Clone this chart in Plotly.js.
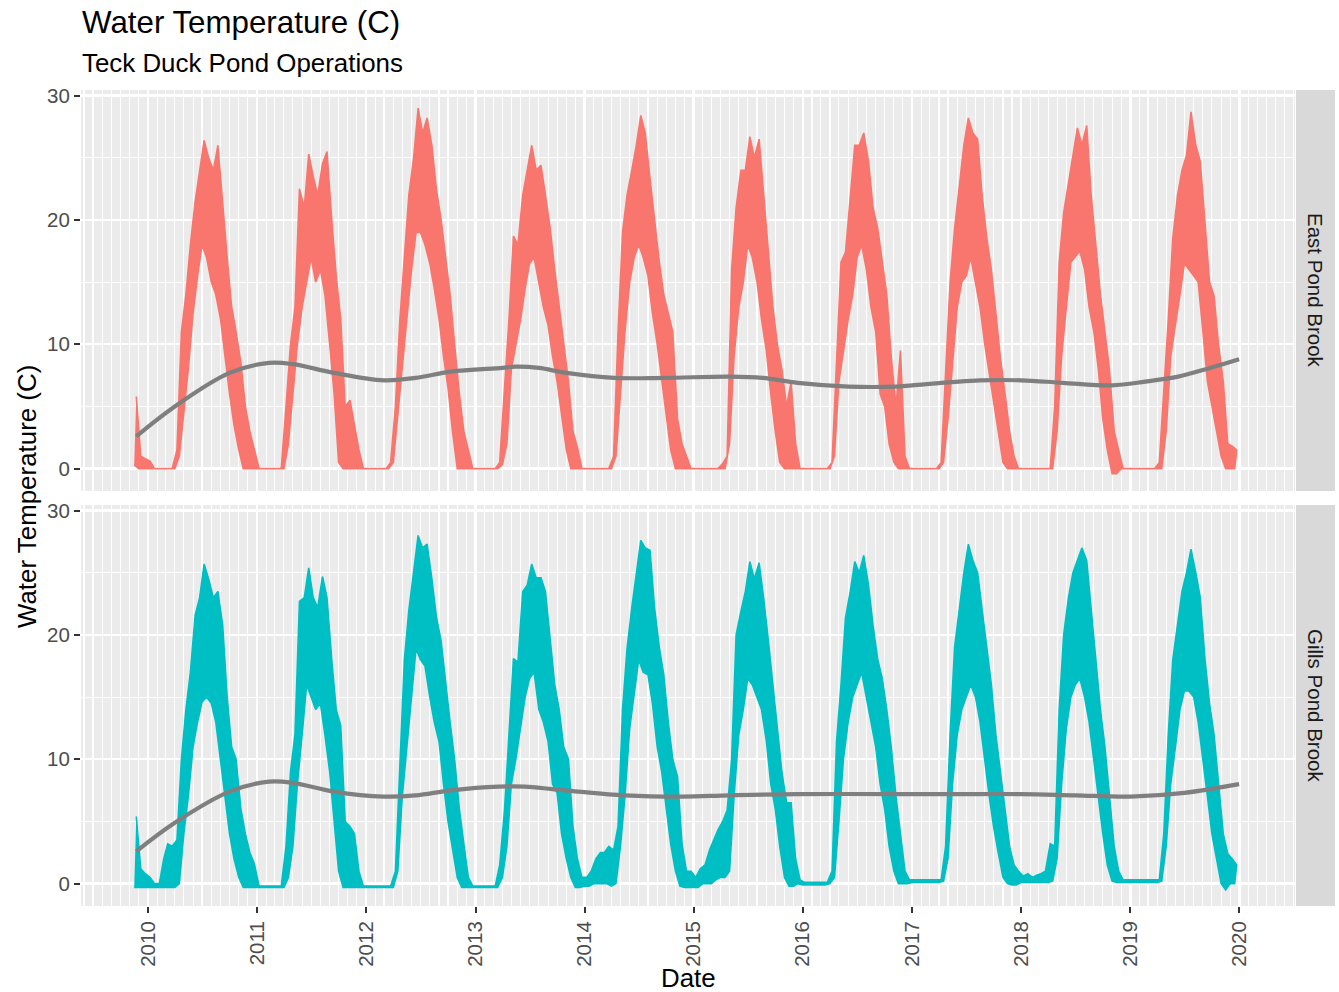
<!DOCTYPE html>
<html>
<head>
<meta charset="utf-8">
<script src="https://cdn.plot.ly/plotly-3.0.1.min.js"></script>
<style>
html,body{margin:0;padding:0;background:#ffffff;}
#chart{width:1339px;height:992px;}
</style>
</head>
<body>
<div id="chart"></div>
<script>
// ---------------- data ----------------
const facetLabels = ['East Pond Brook', 'Gills Pond Brook'];
const seriesColors = ['#F8766D', '#00BFC4'];
const firstHalfMonth = {year: 2009, index: 21}; // second half of November 2009
const yTickValues = [0, 10, 20, 30];

// half-monthly upper / lower envelope of the logged temperature (deg C)
const eastHi = [
  5.8,1.0,0.8,
  0.6,0,0,0,0,0,1.5,11,14,18,21.5,24,26.4,25,24,26,21,17,13,11,8.5,5,3,1.5,
  0,0,0,0,0,0,5,10,13,22.5,21,25.3,23.5,22,24.5,25.5,20,15.5,12,5,5.5,3.5,1.5,0,
  0,0,0,0,0,0.5,5,12,17,22,25,29,27,28.2,26,22.5,20,17,14,10,6,3,1.5,0,
  0,0,0,0,0,0.5,6,12,18.7,18,22,24,26,24,24.4,22,19.3,16,13,10,7,3,1.7,0,
  0,0,0,0,0,0,1,11,19,22,24,26,28.4,27,23.3,20,16.6,14,12.5,11,4,2,1,0,
  0,0,0,0,0,0,0.4,1,16,21,24,24,26.7,25,26.5,22,17,13,10,8,5,7,2,0,
  0,0,0,0,0,0,0.5,9,16.6,17.4,22,26,26,27,24.7,21,19.3,16.6,14,9,5,9.5,1,0,
  0,0,0,0,0,0,0.5,8,15,19.3,23,26,28.2,27,26.5,22,18.5,16,12.5,9,6,3,1,0,
  0,0,0,0,0,0,0,5,16.6,20.6,23,25.5,27.4,26,27.6,22,18,14,11,8,3,1.5,0,0,
  0,0,0,0,0,0,0.5,6,12,18.5,22,24,25.2,28.7,26,24.7,19.3,15,13.9,10,7,2,1.8,1.5
];
const eastLo = [
  0.3,0,0,
  0,0,0,0,0,0,0,1,4.5,8,12.5,15.5,18,17,15,14,12,9,6,3.5,1.5,0,0,0,
  0,0,0,0,0,0,0,2,6,10,13,15,17,15,16,14,10,6,0.5,0,0,0,0,0,
  0,0,0,0,0,0,0.5,4,8,12,16,19,19,18,16.5,14.5,12,9,6.5,3,0,0,0,0,
  0,0,0,0,0,0,0.3,2,8,10,12,14.5,16.5,17,15,13,11.5,9,7,4.4,1.5,0,0,0,
  0,0,0,0,0,0,0,1,6,11,15,17,18,17,15.5,12.5,10,7,4.5,1.5,0,0,0,0,
  0,0,0,0,0,0,0,0,2,9,13,15,18,17,15,12,9.5,6,3,0.5,0,0,0,0,
  0,0,0,0,0,0,0,1,7,9.5,12,14,17,18,16,13,11,6,5,2,0.5,0,0,0,
  0,0,0,0,0,0,0,0.5,4,8,13,15,15.5,17,15,13,10,7.5,5,3,0.5,0,0,0,
  0,0,0,0,0,0,0,0,3,9,13,16.6,17,17.5,16,13,11,8,4,1.5,-0.4,-0.4,0,0,
  0,0,0,0,0,0,0,0,3,9,11.5,14,16.5,16,15.5,15,11,7,5,3,1,0,0,0
];
const gillsHi = [
  5.4,1.2,0.8,
  0.5,0,0,2,3.2,3,3.5,10,14,17,21.6,23,25.7,24.5,23,23.5,20.8,15,11,10,6,4,2.5,1.6,
  -0.2,-0.2,-0.2,-0.2,-0.2,-0.2,3,9,12,22.7,23,25.4,23,22.2,24.7,23,18,14,12.7,5,4.6,4,1,-0.2,
  -0.2,-0.2,-0.2,-0.2,-0.2,-0.2,1,10,18,22,25,28,27,27.3,24.5,21.5,19.5,16,13,10,6,3.2,0.5,-0.2,
  -0.2,-0.2,-0.2,-0.2,-0.2,1.5,5.9,12,18.1,17.8,23.5,24,25.7,24.6,24.6,23.5,19.5,16,14,11,10,4.6,2,0.5,
  0.5,1,2,2.5,2.5,3,2.7,4.6,14,18.9,22.2,25,27.6,27,26.8,22.2,19,16.8,13,10,8.6,3.2,1,1,
  0.5,1.2,1.5,2.7,3.5,4.3,5,5.9,10,20,21.9,23.5,25.9,24.5,25.8,23,19.5,16,13,9,6.5,6.5,2,0.3,
  0.1,0.1,0.1,0.1,0.1,0.1,1,11.4,16,21.4,23.5,25.9,25,26.4,24,20.8,18,16.5,14,11,7,4,1,0.3,
  0.3,0.3,0.3,0.3,0.3,0.3,0.3,3,12,19,22,25,27.3,26,25,22,19,16,12,9,6,3,1.5,1,
  0.6,0.8,0.5,0.7,0.8,1.0,3.2,3,14,20,23,25,26,27,26,22,18,14,11,7,3,1,0.3,0.3,
  0.3,0.3,0.3,0.3,0.3,0.3,0.3,4,12,18,21,23.5,25,26.9,25,23,18,14.5,12,8,4,2.4,2,1.5
];
const gillsLo = [
  -0.3,-0.3,-0.3,
  -0.3,-0.3,-0.3,-0.3,-0.3,-0.3,-0.3,0,4,7,11,13,14.6,15,14.5,13,10,7,4,2,0.5,-0.3,-0.3,-0.3,
  -0.3,-0.3,-0.3,-0.3,-0.3,-0.3,-0.3,0.5,3,8,12,16,15,14,14.5,12,9,5,1,-0.3,-0.3,-0.3,-0.3,-0.3,
  -0.3,-0.3,-0.3,-0.3,-0.3,-0.3,-0.3,1,7,11,15,18.9,18,17.5,15,13,11.4,8,5,3,0.5,-0.3,-0.3,-0.3,
  -0.3,-0.3,-0.3,-0.3,-0.3,-0.3,0.5,3,8,10,12.5,15,16.5,17,14,13,11.4,8,7.3,4,2,0.5,-0.3,-0.3,
  -0.2,-0.2,0,0,0,0,-0.2,0,3,7,12.5,15,18,17,16.8,14.5,11,9,6,3.2,1,-0.2,-0.3,-0.3,
  -0.3,-0.3,0,0,0,0.3,0.5,0.5,1,7,12,14,16.5,16,15,14,11.5,8,6,3,0.5,-0.2,-0.2,0,
  -0.1,-0.1,-0.1,-0.1,-0.1,-0.1,0,0.5,5,10,13,15,16,17,15,13,11,8,6,3,1,0,0,0,
  0.1,0.1,0.1,0.1,0.1,0.1,0.1,0.2,2,8,12,14,15,16,15,13,10,7,4.5,2.5,0.5,0,-0.1,-0.1,
  0.1,0.1,0.1,0.1,0.1,0.1,0.1,0.2,2,8,12.5,15,16,16.5,15,13,10,7,4,1.5,0.2,0.1,0.1,0.1,
  0.1,0.1,0.1,0.1,0.1,0.1,0.1,0.2,3,8,11,14,15.5,15.5,15,13,10,7,4,2,0,-0.5,0,0
];

// smoothed trend (grey curve)
const eastSmoothDates = ['2009-11-23','2010-04-01','2010-10-01','2011-02-10','2011-05-01','2011-09-15',
  '2012-03-01','2012-06-15','2012-10-10','2013-04-01','2013-05-15','2013-08-01','2013-11-01',
  '2014-04-10','2014-09-25','2015-05-01','2015-08-20','2015-12-15','2016-06-01','2016-11-10',
  '2017-01-01','2017-08-15','2018-01-01','2018-05-20','2018-11-01','2019-02-20','2019-06-10',
  '2019-09-25','2019-12-31'];
const eastSmoothVals = [2.6,5.0,7.7,8.5,8.4,7.7, 7.1,7.3,7.8,8.1,8.2,8.1,7.7, 7.3,7.3,7.4,7.3,6.9,6.6,6.6,
  6.7,7.1,7.1,6.9,6.7,7.0,7.4, 8.1,8.8];
const gillsSmoothDates = ['2009-11-23','2010-04-01','2010-10-01','2011-02-10','2011-05-01','2011-09-15',
  '2012-03-01','2012-06-15','2012-10-10','2013-03-20','2013-06-15','2013-09-15','2013-12-10',
  '2014-05-15','2014-11-25','2015-05-01','2015-12-15','2016-11-10','2017-06-01','2018-01-01',
  '2018-07-01','2019-01-01','2019-07-01','2019-12-31'];
const gillsSmoothVals = [2.6,4.9,7.4,8.2,8.1,7.4, 7.0,7.1,7.5,7.8,7.8,7.6,7.4, 7.1,7.0,7.1,7.2,7.2,7.2,7.2,
  7.1,7.0,7.3,8.0];

// ---------------- geometry ----------------
const W = 1339, H = 992;
const L = 81, R = 44, T = 90, B = 86;
const plotW = W - L - R, plotH = H - T - B;
const p1Top = 90, p1Bot = 491, p2Top = 505, p2Bot = 906;
const py = v => (H - B - v) / plotH;   // pixel y -> paper y
const px = v => (v - L) / plotW;       // pixel x -> paper x
const FONT = 'Liberation Sans, Arial, Helvetica, sans-serif';

// band between the lower and upper reading of each half-month
function envelopeBand(hi, lo) {
  const hx = [], lx = [];
  let h = firstHalfMonth.year * 24 + firstHalfMonth.index;
  for (let p = 0; p < hi.length; p++, h++) {
    const yr = Math.floor(h / 24), idx = h % 24;
    const mm = String(Math.floor(idx / 2) + 1).padStart(2, '0');
    const second = idx % 2 === 1;
    lx.push(yr + '-' + mm + (second ? '-16' : '-01'));
    hx.push(yr + '-' + mm + (second ? '-23' : '-08'));
  }
  return {
    x: hx.concat(lx.slice().reverse()),
    y: hi.concat(lo.slice().reverse())
  };
}

const e = envelopeBand(eastHi, eastLo);
const g = envelopeBand(gillsHi, gillsLo);

const traces = [
  {x: e.x, y: e.y, xaxis: 'x2', yaxis: 'y', type: 'scatter', mode: 'lines',
   fill: 'toself', fillcolor: seriesColors[0],
   line: {color: seriesColors[0], width: 1.6}, hoverinfo: 'skip'},
  {x: eastSmoothDates, y: eastSmoothVals, xaxis: 'x2', yaxis: 'y', type: 'scatter', mode: 'lines',
   line: {color: '#7F7F7F', width: 4.2, shape: 'spline', smoothing: 1.0}, hoverinfo: 'skip'},
  {x: g.x, y: g.y, xaxis: 'x', yaxis: 'y2', type: 'scatter', mode: 'lines',
   fill: 'toself', fillcolor: seriesColors[1],
   line: {color: seriesColors[1], width: 1.6}, hoverinfo: 'skip'},
  {x: gillsSmoothDates, y: gillsSmoothVals, xaxis: 'x', yaxis: 'y2', type: 'scatter', mode: 'lines',
   line: {color: '#7F7F7F', width: 4.2, shape: 'spline', smoothing: 1.0}, hoverinfo: 'skip'}
];

const tickFont = {family: FONT, size: 20.5, color: '#4D4D4D'};
const xRange = ['2009-05-22', '2020-07-05'];
const xCommon = {
  type: 'date', range: xRange, tickmode: 'linear', tick0: '2010-01-01', dtick: 'M12',
  showgrid: true, gridcolor: '#FFFFFF', gridwidth: 2.4, zeroline: false, showline: false,
  minor: {tick0: '2010-01-01', dtick: 'M1', showgrid: true, gridcolor: '#FFFFFF', gridwidth: 1.1, ticks: ''}
};
const yCommon = {
  range: [-1.8, 30.45], tickmode: 'array', tickvals: yTickValues, ticktext: yTickValues.map(String),
  ticks: 'outside', ticklen: 6, tickwidth: 2, tickcolor: '#333333', tickfont: tickFont,
  showgrid: true, gridcolor: '#FFFFFF', gridwidth: 2.4, zeroline: false, showline: false,
  minor: {tickmode: 'linear', tick0: 5, dtick: 10, showgrid: true, gridcolor: '#FFFFFF', gridwidth: 1.1, ticks: ''}
};

const layout = {
  width: W, height: H,
  margin: {l: L, r: R, t: T, b: B, pad: 0},
  paper_bgcolor: '#FFFFFF', plot_bgcolor: '#EBEBEB',
  showlegend: false, hovermode: false,
  font: {family: FONT, color: '#000000'},
  xaxis: Object.assign({}, xCommon, {
    anchor: 'y2', domain: [0, 1], tickformat: '%Y', tickangle: -90,
    ticks: 'outside', ticklen: 6, tickwidth: 2, tickcolor: '#333333', tickfont: tickFont
  }),
  xaxis2: Object.assign({}, xCommon, {
    anchor: 'y', domain: [0, 1], matches: 'x', showticklabels: false, ticks: ''
  }),
  yaxis: Object.assign({}, yCommon, {anchor: 'x2', domain: [py(p1Bot), py(p1Top)]}),
  yaxis2: Object.assign({}, yCommon, {anchor: 'x', domain: [py(p2Bot), py(p2Top)]}),
  shapes: [
    {type: 'rect', xref: 'paper', yref: 'paper', x0: px(1296), x1: px(1335),
     y0: py(p1Bot), y1: py(p1Top), fillcolor: '#D9D9D9', line: {width: 0}, layer: 'above'},
    {type: 'rect', xref: 'paper', yref: 'paper', x0: px(1296), x1: px(1335),
     y0: py(p2Bot), y1: py(p2Top), fillcolor: '#D9D9D9', line: {width: 0}, layer: 'above'}
  ],
  annotations: [
    {text: 'Water Temperature (C)', xref: 'paper', yref: 'paper', x: px(80), y: py(22),
     xanchor: 'left', yanchor: 'middle', showarrow: false,
     font: {family: FONT, size: 31.3, color: '#000000'}},
    {text: 'Teck Duck Pond Operations', xref: 'paper', yref: 'paper', x: px(80), y: py(63),
     xanchor: 'left', yanchor: 'middle', showarrow: false,
     font: {family: FONT, size: 25.9, color: '#000000'}},
    {text: 'Water Temperature (C)', xref: 'paper', yref: 'paper', x: px(27), y: py(497),
     xanchor: 'center', yanchor: 'middle', textangle: -90, showarrow: false,
     font: {family: FONT, size: 25.9, color: '#000000'}},
    {text: 'Date', xref: 'paper', yref: 'paper', x: px(688), y: py(977.5), borderpad: 0,
     xanchor: 'center', yanchor: 'middle', showarrow: false,
     font: {family: FONT, size: 25.9, color: '#000000'}},
    {text: facetLabels[0], xref: 'paper', yref: 'paper', x: px(1315.5), y: py((p1Top + p1Bot) / 2),
     xanchor: 'center', yanchor: 'middle', textangle: 90, showarrow: false,
     font: {family: FONT, size: 20.5, color: '#1A1A1A'}},
    {text: facetLabels[1], xref: 'paper', yref: 'paper', x: px(1315.5), y: py((p2Top + p2Bot) / 2),
     xanchor: 'center', yanchor: 'middle', textangle: 90, showarrow: false,
     font: {family: FONT, size: 20.5, color: '#1A1A1A'}}
  ]
};

Plotly.newPlot('chart', traces, layout, {staticPlot: true, displayModeBar: false});
</script>
</body>
</html>
